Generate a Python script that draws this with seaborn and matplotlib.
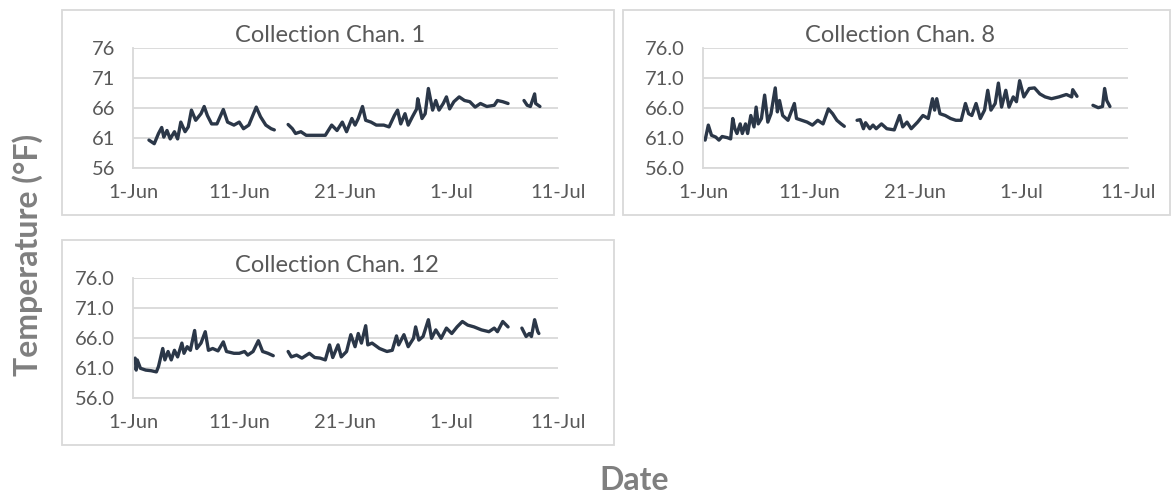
import numpy as np
import pandas as pd
import matplotlib
matplotlib.use("Agg")
import matplotlib.pyplot as plt
from matplotlib.patches import Rectangle
import seaborn as sns

# Day offsets from 1-Jun, NaN marks a gap in the logger record
chan1_days = [1.5, 2.0, 2.4, 2.7, 2.9, 3.2, 3.5, 3.9, 4.2, 4.5, 4.9, 5.2, 5.5, 5.9, 6.4, 6.7, 7.0, 7.4, 7.9, 8.5,
              8.9, 9.5, 10.0, 10.4, 10.9, 11.6, 12.0, 12.5, 13.0, 13.3, np.nan,
              14.6, 15.0, 15.3, 15.8, 16.3, 17.0, 18.1, 18.7, 19.2, 19.7, 20.1, 20.6, 20.9, 21.2, 21.6, 21.9, 22.4,
              22.9, 23.6, 24.1, 24.6, 24.9, 25.2, 25.6, 25.9, 26.3, 26.7, 26.8, 27.2, 27.5, 27.8, 28.2, 28.5, 28.8,
              29.2, 29.5, 29.8, 30.2, 30.7, 31.2, 31.7, 32.2, 32.7, 33.3, 34.0, 34.3, 34.8, 35.3, np.nan,
              36.8, 37.1, 37.4, 37.8, 37.9, 38.3]
chan1_temp = [60.7, 60.1, 61.8, 62.8, 61.2, 62.3, 60.9, 62.1, 60.9, 63.7, 62.1, 62.9, 65.7, 64.0, 65.1, 66.3, 64.8, 63.4, 63.4, 65.8,
              63.7, 63.2, 63.7, 62.6, 63.2, 66.2, 64.6, 63.2, 62.6, 62.4, np.nan,
              63.3, 62.6, 61.8, 62.1, 61.5, 61.5, 61.5, 63.2, 62.3, 63.7, 62.1, 64.3, 63.2, 64.3, 66.3, 64.0, 63.7,
              63.2, 63.2, 62.9, 64.8, 65.7, 63.4, 65.1, 63.2, 64.6, 65.9, 67.6, 64.3, 65.1, 69.3, 65.7, 67.3, 65.7,
              66.8, 67.9, 65.9, 67.1, 67.9, 67.3, 67.1, 66.2, 66.8, 66.3, 66.5, 67.3, 67.1, 66.8, np.nan,
              67.3, 66.5, 66.3, 68.4, 66.8, 66.3]

chan8_days = [0.2, 0.5, 0.8, 1.2, 1.5, 1.8, 2.3, 2.6, 2.8, 3.0, 3.2, 3.5, 3.7, 4.0, 4.2, 4.5, 4.8, 5.0, 5.2, 5.5,
              5.8, 6.1, 6.4, 6.8, 7.0, 7.2, 7.5, 8.0, 8.6, 8.8, 9.3, 9.8, 10.3, 10.8, 11.3, 11.8, 12.2, 12.6, 13.0,
              13.3, np.nan,
              14.5, 14.8, 15.1, 15.3, 15.7, 16.0, 16.3, 16.8, 17.3, 18.0, 18.5, 18.8, 19.2, 19.6, 20.2, 20.7, 21.2,
              21.6, 21.8, 22.0, 22.3, 22.8, 23.3, 23.8, 24.3, 24.7, 25.0, 25.3, 25.7, 26.1, 26.5, 26.8, 27.1, 27.5,
              27.8, 28.1, 28.5, 28.8, 29.2, 29.5, 29.8, 30.2, 30.7, 31.2, 31.7, 32.2, 32.8, 33.5, 34.2, 34.7, 34.8,
              35.2, np.nan,
              36.7, 37.2, 37.6, 37.8, 38.0, 38.3]
chan8_temp = [60.7, 63.2, 61.5, 61.2, 60.7, 61.3, 61.1, 60.9, 64.3, 62.6, 61.8, 63.4, 61.8, 63.4, 61.8, 64.8, 62.9, 66.2, 63.4, 64.3,
              68.2, 63.7, 65.1, 69.4, 65.4, 67.3, 64.8, 64.0, 66.8, 64.3, 64.0, 63.7, 63.2, 64.0, 63.4, 65.9, 65.1, 64.0, 63.4,
              63.0, np.nan,
              64.0, 64.1, 62.6, 63.6, 62.6, 63.2, 62.6, 63.4, 62.6, 62.4, 64.8, 62.9, 63.7, 62.6, 63.7, 64.8, 64.3,
              67.6, 65.7, 67.6, 65.1, 64.8, 64.3, 64.0, 64.0, 66.8, 65.1, 64.8, 66.8, 64.3, 65.7, 69.0, 65.7, 66.8,
              70.2, 66.2, 69.0, 66.2, 67.9, 67.1, 70.6, 67.9, 69.3, 69.4, 68.4, 67.9, 67.6, 67.9, 68.3, 67.9, 69.1,
              68.0, np.nan,
              66.5, 66.1, 66.3, 69.3, 67.3, 66.3]

chan12_days = [0.2, 0.3, 0.4, 0.7, 1.2, 1.7, 2.2, 2.4, 2.8, 3.0, 3.3, 3.6, 3.9, 4.2, 4.6, 4.8, 5.1, 5.4, 5.8, 6.0,
               6.4, 6.8, 7.1, 7.5, 8.0, 8.5, 8.8, 9.5, 10.0, 10.5, 10.8, 11.3, 11.8, 12.2, 12.7, 13.2, np.nan,
               14.6, 14.9, 15.4, 15.9, 16.6, 17.1, 17.6, 18.1, 18.5, 18.8, 19.3, 19.6, 20.1, 20.5, 20.9, 21.2, 21.5,
               21.9, 22.1, 22.5, 23.2, 23.9, 24.4, 24.8, 25.0, 25.5, 25.9, 26.4, 26.6, 26.9, 27.3, 27.8, 28.1, 28.5,
               29.0, 29.5, 30.0, 30.5, 31.0, 31.5, 32.1, 32.8, 33.5, 34.0, 34.3, 34.8, 35.3, np.nan,
               36.6, 37.0, 37.3, 37.5, 37.8, 38.1, 38.2]
chan12_temp = [62.7, 60.7, 62.4, 61.0, 60.7, 60.6, 60.4, 61.3, 64.3, 62.4, 63.8, 62.4, 64.0, 62.9, 65.2, 63.5, 64.6, 64.0, 67.3, 64.3,
               65.2, 67.1, 64.0, 64.3, 63.9, 65.4, 63.8, 63.5, 63.5, 63.8, 63.2, 63.8, 65.6, 63.8, 63.5, 63.1, np.nan,
               63.8, 62.9, 63.2, 62.7, 63.5, 62.8, 62.7, 62.4, 64.9, 62.8, 64.9, 62.9, 63.8, 66.6, 64.6, 66.8, 65.2,
               68.1, 64.9, 65.2, 64.3, 63.8, 64.0, 66.4, 64.9, 66.6, 64.6, 66.0, 67.9, 65.7, 66.3, 69.1, 66.0, 67.4,
               66.0, 67.7, 66.8, 67.9, 68.8, 68.2, 67.9, 67.4, 67.1, 67.7, 67.1, 68.8, 67.9, np.nan,
               67.7, 66.3, 66.8, 66.3, 69.1, 67.1, 66.8]

titles = ["Collection Chan. 1", "Collection Chan. 8", "Collection Chan. 12"]
y_ticks = [56, 61, 66, 71, 76]
y_labels_int = ["56", "61", "66", "71", "76"]
y_labels_dec = ["56.0", "61.0", "66.0", "71.0", "76.0"]
x_tick_dates = ["2019-06-01", "2019-06-11", "2019-06-21", "2019-07-01", "2019-07-11"]
x_tick_labels = ["1-Jun", "11-Jun", "21-Jun", "1-Jul", "11-Jul"]

START = pd.Timestamp("2019-06-01")
W, H = 1175, 496
LINE = "#2b3748"
GRID = "#d9d9d9"
TXT = "#595959"


def make_frame(days, temps):
    df = pd.DataFrame({"day": days, "temp": temps})
    df["seg"] = df["day"].isna().cumsum()
    df = df.dropna()
    df["date"] = START + pd.to_timedelta(df["day"], unit="D")
    return df


sns.set_style("white")
plt.rcParams["font.family"] = ["Lato", "DejaVu Sans"]

fig = plt.figure(figsize=(W / 100, H / 100), dpi=100)


def px_axes(x0, x1, y_top, y_bot):
    return fig.add_axes([x0 / W, 1 - y_bot / H, (x1 - x0) / W, (y_bot - y_top) / H])


def box(x0, x1, y0, y1):
    r = Rectangle((x0 / W, 1 - y1 / H), (x1 - x0) / W, (y1 - y0) / H, fill=False,
                  ec="#d9d9d9", lw=1.3, transform=fig.transFigure, figure=fig)
    fig.patches.append(r)


panels = [
    (chan1_days, chan1_temp, (133, 558, 48.3, 168.3), (62, 614, 10, 215), y_labels_int, (330, 35)),
    (chan8_days, chan8_temp, (703, 1128, 48.3, 168.3), (623, 1170, 10, 215), y_labels_dec, (900, 35)),
    (chan12_days, chan12_temp, (133, 558, 278.3, 398.3), (62, 614, 240, 445), y_labels_dec, (337, 265)),
]

for (days, temps, ax_px, box_px, ylabs, tpos), title in zip(panels, titles):
    box(*box_px)
    ax = px_axes(*ax_px)
    df = make_frame(days, temps)
    sns.lineplot(data=df, x="date", y="temp", units="seg", estimator=None,
                 color=LINE, lw=2.4, ax=ax, legend=False)
    ax.set_xlim(pd.Timestamp("2019-06-01"), pd.Timestamp("2019-07-11"))
    ax.set_ylim(56, 76)
    ax.set_yticks(y_ticks)
    ax.set_yticklabels(ylabs)
    ax.set_xticks(pd.to_datetime(x_tick_dates))
    ax.set_xticklabels(x_tick_labels)
    ax.set_xlabel("")
    ax.set_ylabel("")
    ax.grid(axis="y", color=GRID, lw=1.3)
    ax.set_axisbelow(True)
    for s in ["top", "right"]:
        ax.spines[s].set_visible(False)
    for s in ["left", "bottom"]:
        ax.spines[s].set_color(GRID)
        ax.spines[s].set_linewidth(1.3)
    ax.tick_params(axis="both", length=0, labelsize=14.5, labelcolor=TXT)
    ax.tick_params(axis="x", pad=11)
    ax.tick_params(axis="y", pad=13)
    ax.patch.set_alpha(0)
    fig.text(tpos[0] / W, 1 - tpos[1] / H, title, ha="center", va="center",
             fontsize=17, color=TXT)

fig.text(28 / W, 1 - 255 / H, "Temperature (°F)", rotation=90, ha="center", va="center",
         fontsize=23, fontweight="bold", color="#7f7f7f")
fig.text(634 / W, 1 - 481 / H, "Date", ha="center", va="center",
         fontsize=23, fontweight="bold", color="#7f7f7f")

fig.savefig("out.png", dpi=100, facecolor="white")
